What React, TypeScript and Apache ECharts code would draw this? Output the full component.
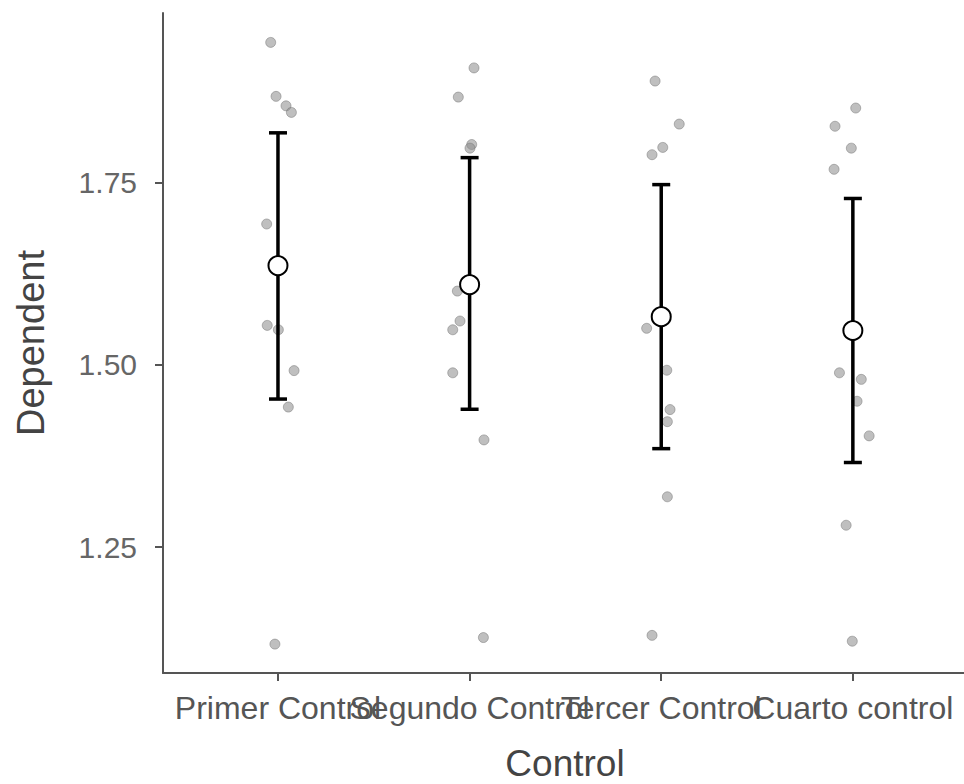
import React, { useEffect, useRef } from "react";
import * as echarts from "echarts";

const categories = ["Primer Control", "Segundo Control", "Tercer Control", "Cuarto control"];
const means = [1.636, 1.61, 1.566, 1.547];
const ciLow = [1.453, 1.439, 1.385, 1.366];
const ciHigh = [1.818, 1.784, 1.747, 1.728];
const yTicks = [1.25, 1.5, 1.75];

const group1Values = [1.942, 1.868, 1.855, 1.846, 1.693, 1.554, 1.548, 1.492, 1.442, 1.117];
const group1Jitter = [-0.038, -0.01, 0.042, 0.07, -0.059, -0.056, 0.002, 0.084, 0.054, -0.016];
const group2Values = [1.907, 1.867, 1.802, 1.797, 1.601, 1.56, 1.548, 1.489, 1.397, 1.126];
const group2Jitter = [0.023, -0.059, 0.011, 0.002, -0.064, -0.05, -0.088, -0.088, 0.075, 0.072];
const group3Values = [1.889, 1.83, 1.798, 1.788, 1.55, 1.4925, 1.4386, 1.422, 1.319, 1.129];
const group3Jitter = [-0.032, 0.094, 0.008, -0.048, -0.076, 0.029, 0.046, 0.032, 0.032, -0.048];
const group4Values = [1.852, 1.827, 1.797, 1.768, 1.489, 1.48, 1.45, 1.4025, 1.28, 1.121];
const group4Jitter = [0.015, -0.093, -0.008, -0.098, -0.07, 0.044, 0.022, 0.085, -0.035, -0.003];

const groupValues = [group1Values, group2Values, group3Values, group4Values];
const groupJitter = [group1Jitter, group2Jitter, group3Jitter, group4Jitter];

const FONT = "Liberation Sans, Arial, sans-serif";
const X_MIN = 0.4;
const X_MAX = 4.58;

export default function App() {
  const ref = useRef<HTMLDivElement>(null);
  useEffect(() => {
    if (!ref.current) return;
    const chart = echarts.init(ref.current, null, { renderer: "svg" });
    const points: number[][] = [];
    groupValues.forEach((vals, g) => {
      vals.forEach((v, i) => points.push([g + 1 + groupJitter[g][i], v]));
    });
    const errData = categories.map((_, i) => [i + 1, ciLow[i], ciHigh[i]]);
    const meanData = categories.map((_, i) => [i + 1, means[i]]);

    const labelStyle = {
      formatter: (v: number) => categories[Math.round(v) - 1] ?? "",
      color: "#555",
      fontSize: 32,
      fontFamily: FONT,
      margin: 19,
      hideOverlap: false,
      showMinLabel: true,
      showMaxLabel: true,
    };

    chart.setOption({
      animation: false,
      grid: { left: 163, right: 0, top: 13, bottom: 111 },
      xAxis: [
        {
          type: "value",
          min: X_MIN,
          max: X_MAX,
          splitLine: { show: false },
          axisLine: { show: true, onZero: false, lineStyle: { color: "#555", width: 2 } },
          axisTick: { show: true, length: 8, customValues: [1, 2, 3, 4], lineStyle: { color: "#555", width: 2 } },
          axisLabel: { ...labelStyle, customValues: [1, 3] },
        },
        {
          type: "value",
          position: "bottom",
          min: X_MIN,
          max: X_MAX,
          splitLine: { show: false },
          axisLine: { show: false, onZero: false },
          axisTick: { show: false },
          axisLabel: { ...labelStyle, customValues: [2, 4] },
        },
      ],
      yAxis: {
        type: "value",
        min: 1.0774,
        max: 1.9823,
        splitLine: { show: false },
        axisLine: { show: true, lineStyle: { color: "#555", width: 2 } },
        axisTick: { show: true, length: 8, customValues: yTicks, lineStyle: { color: "#555", width: 2 } },
        axisLabel: {
          customValues: yTicks,
          formatter: (v: number) => v.toFixed(2),
          color: "#666",
          fontSize: 30,
          fontFamily: FONT,
          margin: 26,
        },
      },
      graphic: [
        {
          type: "text",
          x: 565,
          y: 763,
          style: {
            text: "Control",
            fontSize: 37,
            fontFamily: FONT,
            fill: "#444",
            align: "center",
            verticalAlign: "middle",
          },
        },
        {
          type: "text",
          x: 31,
          y: 343,
          rotation: Math.PI / 2,
          style: {
            text: "Dependent",
            fontSize: 38,
            fontFamily: FONT,
            fill: "#444",
            align: "center",
            verticalAlign: "middle",
          },
        },
      ],
      series: [
        {
          type: "scatter",
          data: points,
          symbolSize: 10,
          itemStyle: { color: "rgba(140,140,140,0.7)", borderColor: "rgba(110,110,110,0.6)", borderWidth: 1 },
          z: 1,
        },
        {
          type: "custom",
          data: errData,
          z: 2,
          renderItem: (params: any, api: any) => {
            const x = api.value(0);
            const lo = api.coord([x, api.value(1)]);
            const hi = api.coord([x, api.value(2)]);
            const hw = 9;
            const style = { stroke: "#000", lineWidth: 3.5 };
            return {
              type: "group",
              children: [
                { type: "line", shape: { x1: lo[0], y1: lo[1], x2: hi[0], y2: hi[1] }, style },
                { type: "line", shape: { x1: hi[0] - hw, y1: hi[1], x2: hi[0] + hw, y2: hi[1] }, style },
                { type: "line", shape: { x1: lo[0] - hw, y1: lo[1], x2: lo[0] + hw, y2: lo[1] }, style },
              ],
            };
          },
        },
        {
          type: "scatter",
          data: meanData,
          symbol: "circle",
          symbolSize: 19,
          itemStyle: { color: "#fff", borderColor: "#000", borderWidth: 2, opacity: 1 },
          z: 3,
        },
      ],
    });
    return () => chart.dispose();
  }, []);
  return (
    <div
      ref={ref}
      style={{ position: "absolute", left: 0, top: 0, width: 964, height: 784, background: "#fff" }}
    />
  );
}
